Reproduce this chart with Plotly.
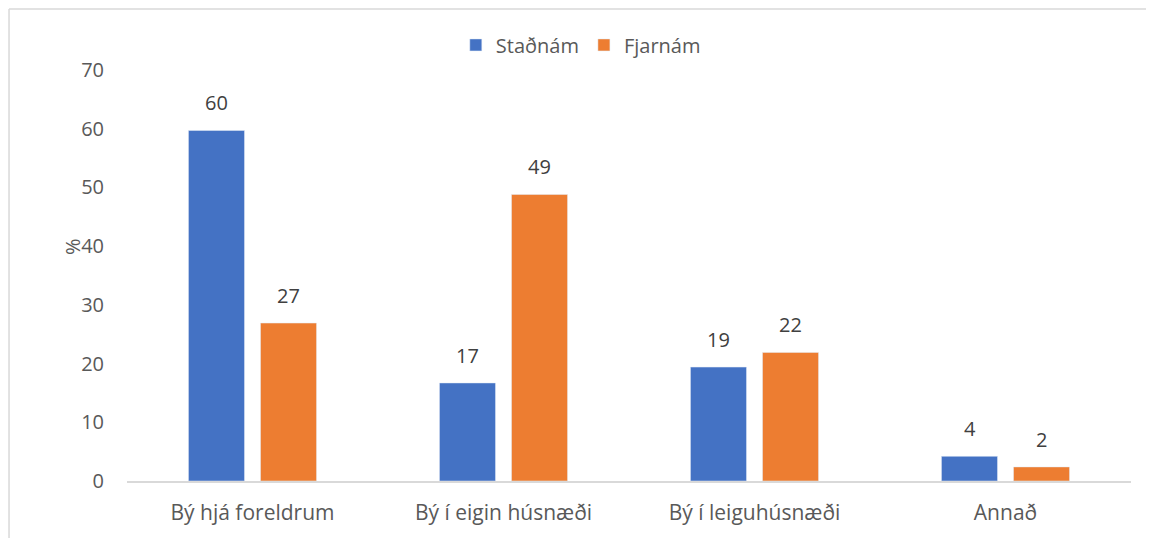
import plotly.graph_objects as go

categories = ["Bý hjá foreldrum", "Bý í eigin húsnæði", "Bý í leiguhúsnæði", "Annað"]
stadnam = [59.7, 16.7, 19.4, 4.2]
fjarnam = [26.9, 48.8, 21.9, 2.4]
stadnam_labels = ["60", "17", "19", "4"]
fjarnam_labels = ["27", "49", "22", "2"]
y_ticks = [0, 10, 20, 30, 40, 50, 60, 70]

FONT = "Open Sans"
BLUE = "#4472C4"
ORANGE = "#ED7D31"
FS = 20

fig = go.Figure()
fig.add_trace(go.Bar(name="Staðnám", x=categories, y=stadnam, marker_color=BLUE))
fig.add_trace(go.Bar(name="Fjarnám", x=categories, y=fjarnam, marker_color=ORANGE))

annotations = []
for cat, v, lab in zip(categories, stadnam, stadnam_labels):
    annotations.append(dict(x=cat, y=v, xref="x", yref="y", text=lab, showarrow=False,
                            xshift=-36, yshift=12, yanchor="bottom",
                            font=dict(family=FONT, size=FS, color="#404040")))
for cat, v, lab in zip(categories, fjarnam, fjarnam_labels):
    annotations.append(dict(x=cat, y=v, xref="x", yref="y", text=lab, showarrow=False,
                            xshift=36, yshift=12, yanchor="bottom",
                            font=dict(family=FONT, size=FS, color="#404040")))
annotations.append(dict(x=-0.055, y=40, xref="paper", yref="y", text="%", showarrow=False,
                        textangle=-90, xanchor="center", yanchor="middle",
                        font=dict(family=FONT, size=FS, color="#595959")))

fig.update_layout(
    width=1146, height=530,
    margin=dict(l=119, r=23, t=62, b=57),
    paper_bgcolor="white", plot_bgcolor="white",
    barmode="group", bargap=0.426, bargroupgap=0.222,
    font=dict(family=FONT, size=FS, color="#595959"),
    showlegend=True,
    legend=dict(orientation="h", x=0.452, xanchor="center", y=1.061, yanchor="middle",
                font=dict(family=FONT, size=FS, color="#595959"), traceorder="normal"),
    annotations=annotations,
    shapes=[
        dict(type="line", xref="paper", yref="paper", x0=-0.1175, x1=-0.1175, y0=1.1484, y1=-0.2,
             line=dict(color="#D9D9D9", width=1.5)),
        dict(type="line", xref="paper", yref="paper", x0=-0.1175, x1=1.05, y0=1.1484, y1=1.1484,
             line=dict(color="#D9D9D9", width=1.5)),
    ],
)
fig.update_xaxes(showline=True, linecolor="#D9D9D9", linewidth=1.5, showgrid=False,
                 ticks="outside", ticklen=12, tickcolor="rgba(0,0,0,0)",
                 tickfont=dict(family=FONT, size=FS + 1, color="#595959"))
fig.update_yaxes(range=[0, 70], tickvals=y_ticks, showgrid=False, showline=False, zeroline=False,
                 ticks="outside", ticklen=18, tickcolor="rgba(0,0,0,0)",
                 tickfont=dict(family=FONT, size=FS, color="#595959"))

fig.write_html("out.html")
